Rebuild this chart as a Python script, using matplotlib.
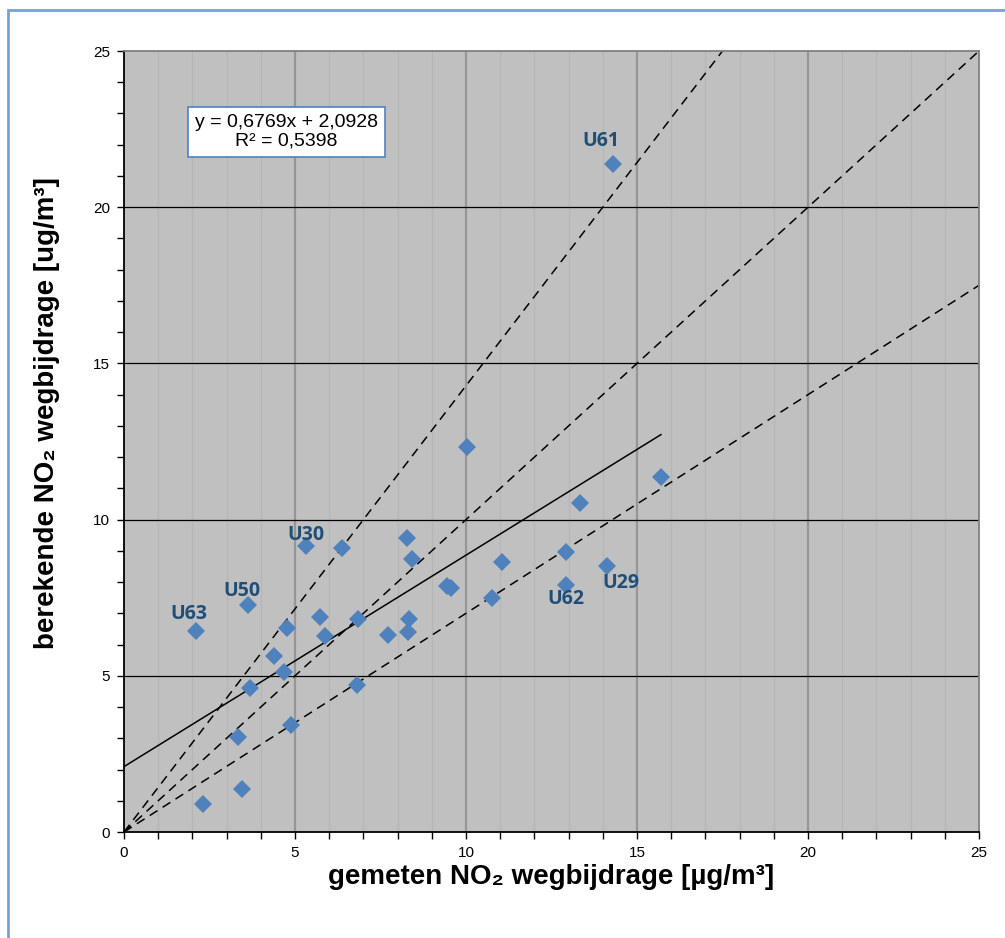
import matplotlib
matplotlib.use("Agg")
import matplotlib.pyplot as plt
from matplotlib.patches import Rectangle
import numpy as np

# Data: measured (x) vs calculated (y) NO2 road contribution
gemeten = [14.30, 10.03, 15.70, 13.33, 5.32, 6.37, 8.27, 8.42, 11.05, 12.92,
           14.12, 9.45, 9.56, 10.76, 12.92, 3.63, 5.73, 6.84, 8.33, 8.30,
           7.72, 5.88, 2.11, 4.77, 4.39, 4.68, 3.68, 6.81, 4.88, 3.33,
           3.45, 2.31]
berekend = [21.38, 12.32, 11.36, 10.53, 9.15, 9.09, 9.41, 8.74, 8.64, 8.96,
            8.51, 7.87, 7.81, 7.49, 7.91, 7.27, 6.88, 6.82, 6.82, 6.40,
            6.31, 6.27, 6.43, 6.53, 5.63, 5.12, 4.61, 4.71, 3.43, 3.04,
            1.38, 0.90]

labels = ["U61", "U30", "U29", "U62", "U50", "U63"]
label_x = [14.30, 5.32, 14.12, 12.92, 3.63, 2.11]
label_y = [21.38, 9.15, 8.51, 7.91, 7.27, 6.43]
label_dx = [-0.35, 0.0, 0.40, 0.0, -0.18, -0.21]
label_dy = [0.75, 0.37, -0.55, -0.45, 0.45, 0.54]

slope, intercept, r2 = 0.6769, 2.0928, 0.5398
ref_slopes = [1 / 0.7, 1.0, 0.7]

fig = plt.figure(figsize=(10.05, 9.38), dpi=100)
fig.patch.set_facecolor("white")
# outer chart frame
fig.add_artist(Rectangle((8 / 1005, -0.05), 1.1, (938 - 10) / 938 + 0.05,
                         transform=fig.transFigure, fill=False,
                         edgecolor="#7BA0D0", linewidth=2))

ax = fig.add_axes([124 / 1005, (938 - 832) / 938, 855 / 1005, 781 / 938])
ax.set_facecolor("#C0C0C0")
ax.set_xlim(0, 25)
ax.set_ylim(0, 25)

# grid lines
for v in range(1, 25):
    if v % 5 == 0:
        ax.axvline(v, color="#969696", lw=1.6, zorder=1)
    else:
        ax.axvline(v, color="#B6B6B6", lw=1.0, zorder=1)
for v in range(5, 25, 5):
    ax.axhline(v, color="black", lw=0.9, zorder=1)

# reference lines
xx = np.array([0, 25])
for s in ref_slopes:
    ax.plot(xx, s * xx, color="black", lw=1.1, ls=(0, (6, 4)), zorder=2)

# regression line
xr = np.array([0, max(gemeten)])
ax.plot(xr, slope * xr + intercept, color="black", lw=1.1, zorder=2)

ax.plot(gemeten, berekend, ls="none", marker="D", markersize=9.5,
        color="#4F81BD", markeredgewidth=0, zorder=3)

for t, x, y, dx, dy in zip(labels, label_x, label_y, label_dx, label_dy):
    ax.text(x + dx, y + dy, t, color="#1F4E79", fontsize=14,
            fontweight="bold", family=["Open Sans", "DejaVu Sans"],
            ha="center", va="center", zorder=4)

ax.text(0.1895, 0.8963,
        f"y = {slope:.4f}x + {intercept:.4f}\nR² = {r2:.4f}".replace(".", ","),
        transform=ax.transAxes, ha="center", va="center", fontsize=14,
        family=["Liberation Sans", "DejaVu Sans"], linespacing=1.1,
        bbox=dict(boxstyle="square,pad=0.36", fc="white", ec="#4F81BD", lw=1.2),
        zorder=5)

ax.set_xticks(range(0, 26, 5))
ax.set_yticks(range(0, 26, 5))
ax.set_xticks(range(0, 26), minor=True)
ax.set_yticks(range(0, 26), minor=True)
ax.tick_params(which="both", direction="out", length=5, width=1, color="black",
               labelsize=11, pad=5)
for lab in ax.get_xticklabels() + ax.get_yticklabels():
    lab.set_family(["Liberation Sans", "DejaVu Sans"])

ax.spines["top"].set_color("#808080")
ax.spines["right"].set_color("#808080")
ax.spines["left"].set_color("black")
ax.spines["bottom"].set_color("black")
for sp in ax.spines.values():
    sp.set_linewidth(1.3)
    sp.set_zorder(6)

ax.set_xlabel("gemeten NO₂ wegbijdrage [µg/m³]", fontsize=20,
              fontweight="bold", family=["Liberation Sans", "DejaVu Sans"],
              labelpad=3)
ax.set_ylabel("berekende NO₂ wegbijdrage [ug/m³]", fontsize=20,
              fontweight="bold", family=["Liberation Sans", "DejaVu Sans"])
ax.yaxis.set_label_coords(-0.075, 0.537)

fig.savefig("out.png", dpi=100)
